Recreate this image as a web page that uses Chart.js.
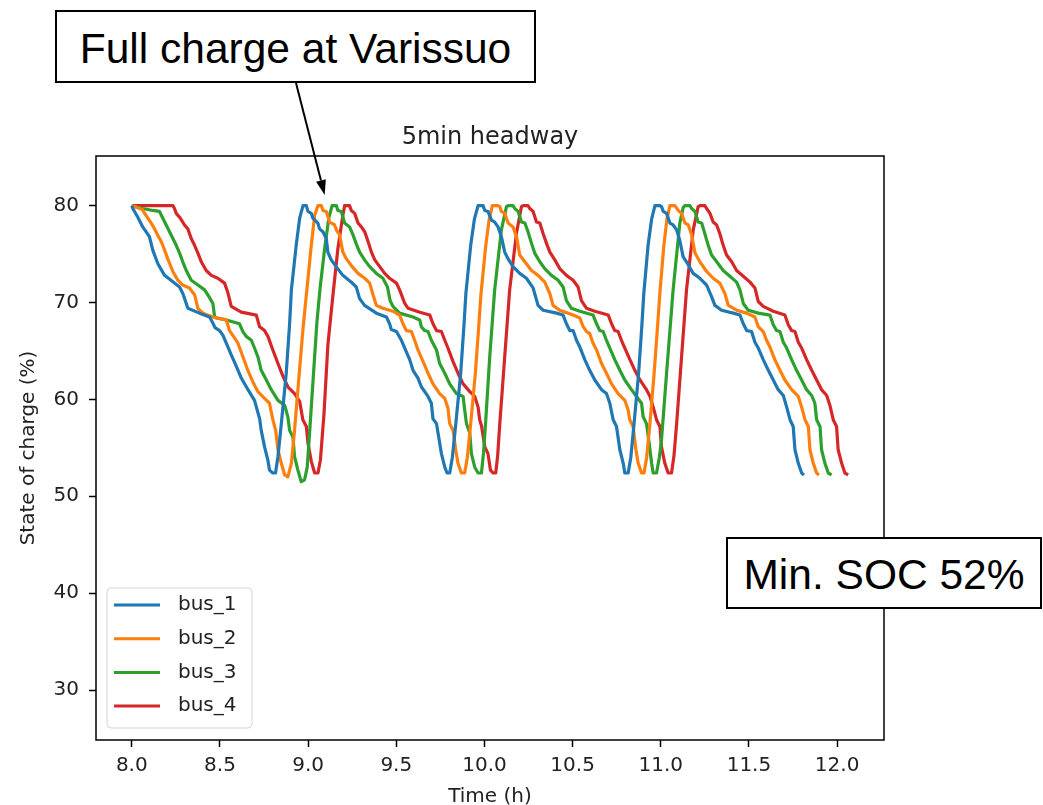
<!DOCTYPE html>
<html>
<head>
<meta charset="utf-8">
<title>5min headway</title>
<script src="https://cdn.jsdelivr.net/npm/chart.js@4.4.1/dist/chart.umd.min.js"></script>
<style>
  html, body { margin: 0; padding: 0; background: #fff; }
  #wrap { position: relative; width: 1043px; height: 805px; }
  #soc-chart { display: block; }
  .note {
    position: absolute;
    box-sizing: border-box;
    border: 2px solid #000;
    background: #fff;
    font-family: "Liberation Sans", Arial, sans-serif;
    font-size: 42.5px;
    color: #000;
    display: flex;
    align-items: center;
    justify-content: center;
    white-space: nowrap;
    padding-top: 4px;
  }
  #note-full { left: 55px; top: 10px; width: 481px; height: 73px; }
  #note-min { left: 726px; top: 537px; width: 316px; height: 72px; }
</style>
</head>
<body>
<div id="wrap">
  <canvas id="soc-chart" width="1043" height="805"></canvas>
  <div class="note" id="note-full">Full charge at Varissuo</div>
  <div class="note" id="note-min">Min. SOC 52%</div>
</div>
<script>
// [time (h), state of charge (%)] for each bus
const bus1 = [
  [8.000, 80.0], [8.006, 79.7], [8.034, 78.8], [8.062, 77.8], [8.100, 76.8], [8.119, 75.4], [8.148, 74.0],
  [8.186, 72.8], [8.242, 72.0], [8.271, 71.6], [8.290, 70.9], [8.318, 69.4], [8.384, 68.9], [8.441, 68.5],
  [8.462, 67.8], [8.472, 67.4], [8.498, 67.1], [8.517, 66.6], [8.536, 65.8], [8.564, 64.6], [8.593, 63.4],
  [8.621, 62.2], [8.659, 61.0], [8.696, 59.9], [8.725, 58.0], [8.734, 56.8], [8.753, 55.1], [8.772, 53.7],
  [8.781, 52.7], [8.800, 52.4], [8.815, 52.4],
  [8.829, 54.1], [8.848, 57.5], [8.876, 62.7], [8.895, 67.8], [8.905, 71.3], [8.933, 76.0], [8.952, 78.7],
  [8.971, 80.0], [8.990, 80.0],
  [8.999, 79.4], [9.018, 79.2], [9.027, 78.7], [9.055, 78.2], [9.065, 77.6], [9.084, 77.3], [9.103, 76.6],
  [9.112, 75.2], [9.131, 74.4], [9.159, 73.7], [9.197, 72.8], [9.245, 72.1], [9.273, 71.6], [9.292, 70.4],
  [9.320, 69.7], [9.387, 68.9], [9.444, 68.5], [9.462, 67.8], [9.472, 67.2], [9.501, 67.0], [9.529, 66.1],
  [9.548, 65.3], [9.576, 64.1], [9.595, 63.0], [9.623, 62.2], [9.642, 61.3], [9.680, 60.3], [9.699, 59.6],
  [9.708, 58.0], [9.728, 57.5], [9.737, 56.5], [9.756, 54.4], [9.775, 53.0], [9.788, 52.4], [9.803, 52.4],
  [9.818, 54.0], [9.837, 57.4], [9.865, 62.6], [9.884, 67.7], [9.895, 71.0], [9.922, 75.9], [9.943, 78.6],
  [9.964, 80.0], [9.992, 80.0],
  [10.002, 79.5], [10.020, 79.4], [10.040, 78.5], [10.058, 78.3], [10.077, 77.8], [10.096, 76.8],
  [10.115, 75.2], [10.134, 74.5], [10.162, 73.7], [10.200, 73.0], [10.238, 72.5], [10.276, 71.5],
  [10.304, 69.7], [10.333, 69.2], [10.409, 68.9], [10.446, 68.7], [10.465, 67.8], [10.484, 67.1],
  [10.503, 67.1], [10.522, 66.1], [10.541, 65.4], [10.569, 64.1], [10.597, 63.0], [10.626, 62.0],
  [10.664, 61.0], [10.692, 60.6], [10.711, 59.6], [10.730, 57.9], [10.749, 57.2], [10.768, 54.8],
  [10.787, 53.4], [10.796, 52.4], [10.815, 52.4],
  [10.830, 54.0], [10.848, 57.4], [10.874, 62.6], [10.893, 67.7], [10.904, 71.0], [10.928, 75.9],
  [10.948, 78.6], [10.967, 80.0], [10.995, 80.0],
  [11.004, 79.9], [11.014, 79.4], [11.033, 79.2], [11.052, 78.2], [11.070, 78.0], [11.090, 77.5],
  [11.108, 76.4], [11.127, 74.7], [11.156, 73.9], [11.184, 73.0], [11.222, 72.5], [11.260, 71.8],
  [11.288, 70.6], [11.307, 69.7], [11.345, 69.2], [11.411, 68.9], [11.449, 68.7], [11.468, 67.8],
  [11.487, 67.1], [11.515, 67.0], [11.534, 65.9], [11.553, 65.3], [11.581, 64.1], [11.610, 63.0],
  [11.638, 62.0], [11.666, 61.0], [11.695, 60.4], [11.714, 59.2], [11.733, 57.9], [11.751, 57.2],
  [11.761, 54.8], [11.780, 53.4], [11.799, 52.4], [11.812, 52.2],
];

const bus2 = [
  [8.000, 80.0], [8.060, 79.6], [8.073, 79.2], [8.091, 78.7], [8.110, 78.2], [8.129, 77.6], [8.148, 76.9],
  [8.167, 76.3], [8.186, 75.4], [8.204, 74.5], [8.233, 73.2], [8.261, 72.3], [8.289, 71.8], [8.327, 71.5],
  [8.356, 70.8], [8.375, 69.4], [8.403, 68.9], [8.460, 68.5], [8.536, 68.2], [8.554, 67.1], [8.573, 66.6],
  [8.602, 65.8], [8.630, 64.4], [8.658, 63.0], [8.687, 61.8], [8.715, 60.8], [8.753, 60.1], [8.781, 59.6],
  [8.800, 57.9], [8.816, 56.8], [8.829, 54.8], [8.848, 53.4], [8.867, 52.2], [8.885, 52.0],
  [8.905, 53.4], [8.923, 56.8], [8.942, 61.0], [8.970, 67.1], [8.990, 70.8], [9.018, 75.9], [9.037, 79.0],
  [9.056, 80.0], [9.075, 80.0],
  [9.084, 79.5], [9.103, 79.4], [9.122, 78.3], [9.150, 78.0], [9.160, 77.5], [9.178, 77.0], [9.197, 75.2],
  [9.217, 74.5], [9.245, 73.8], [9.283, 73.0], [9.321, 72.5], [9.349, 72.0], [9.368, 70.8], [9.387, 69.7],
  [9.424, 69.4], [9.481, 69.1], [9.519, 68.7], [9.538, 67.8], [9.557, 67.1], [9.586, 67.0], [9.604, 66.1],
  [9.623, 65.1], [9.652, 63.9], [9.680, 62.7], [9.708, 61.6], [9.746, 60.6], [9.775, 60.1], [9.793, 59.1],
  [9.803, 57.5], [9.822, 56.8], [9.837, 54.8], [9.850, 53.4], [9.869, 52.4], [9.888, 52.4],
  [9.903, 54.0], [9.922, 57.5], [9.948, 62.6], [9.968, 67.6], [9.980, 70.8], [10.007, 75.8],
  [10.027, 78.6], [10.045, 80.0], [10.072, 80.0],
  [10.087, 79.9], [10.096, 79.4], [10.115, 79.2], [10.134, 78.2], [10.162, 77.8], [10.182, 76.8],
  [10.200, 74.9], [10.229, 74.2], [10.267, 73.3], [10.304, 72.8], [10.342, 72.1], [10.371, 70.9],
  [10.389, 69.7], [10.427, 69.2], [10.503, 68.7], [10.541, 68.4], [10.560, 67.5], [10.579, 67.0],
  [10.597, 66.8], [10.616, 65.8], [10.636, 65.1], [10.664, 63.7], [10.692, 62.7], [10.721, 61.6],
  [10.758, 60.6], [10.796, 59.9], [10.815, 58.9], [10.824, 57.9], [10.843, 57.2], [10.859, 54.8],
  [10.872, 53.4], [10.891, 52.4], [10.905, 52.4],
  [10.920, 54.0], [10.938, 57.4], [10.962, 62.6], [10.982, 67.6], [10.995, 71.0], [11.017, 75.8],
  [11.035, 78.6], [11.052, 80.0], [11.080, 80.0],
  [11.099, 79.5], [11.118, 79.2], [11.137, 78.2], [11.156, 78.0], [11.175, 77.0], [11.194, 75.1],
  [11.222, 74.2], [11.260, 73.2], [11.297, 72.5], [11.335, 72.0], [11.364, 70.9], [11.383, 69.7],
  [11.430, 69.2], [11.487, 68.9], [11.534, 68.5], [11.553, 67.5], [11.581, 67.0], [11.600, 66.1],
  [11.619, 65.4], [11.647, 64.1], [11.676, 63.0], [11.704, 62.0], [11.742, 61.0], [11.780, 60.3],
  [11.799, 59.2], [11.818, 57.9], [11.837, 57.2], [11.846, 54.8], [11.865, 53.4], [11.884, 52.4],
  [11.897, 52.2],
];

const bus3 = [
  [8.000, 80.0], [8.062, 79.7], [8.119, 79.5], [8.157, 79.4], [8.176, 78.7], [8.195, 78.0], [8.214, 77.3],
  [8.233, 76.6], [8.252, 75.9], [8.271, 75.1], [8.289, 74.2], [8.309, 73.3], [8.337, 72.3], [8.375, 71.8],
  [8.413, 71.3], [8.441, 70.5], [8.460, 69.9], [8.469, 68.6], [8.479, 68.4], [8.536, 68.2], [8.611, 67.8],
  [8.630, 67.0], [8.649, 66.5], [8.678, 66.1], [8.696, 65.3], [8.715, 64.4], [8.734, 63.0], [8.763, 62.0],
  [8.791, 61.0], [8.829, 59.9], [8.867, 59.4], [8.885, 58.2], [8.895, 56.8], [8.914, 56.1], [8.923, 54.1],
  [8.942, 52.7], [8.961, 51.5], [8.980, 51.7],
  [8.995, 53.0], [9.010, 57.0], [9.030, 62.5], [9.050, 68.0], [9.068, 71.5], [9.094, 75.6], [9.118, 78.8],
  [9.136, 80.0], [9.160, 80.0],
  [9.169, 79.5], [9.188, 79.4], [9.207, 78.2], [9.235, 77.8], [9.254, 77.0], [9.274, 76.0], [9.292, 75.2],
  [9.320, 74.4], [9.349, 73.7], [9.387, 73.0], [9.424, 72.5], [9.450, 71.6], [9.465, 70.2], [9.481, 69.6],
  [9.519, 68.9], [9.595, 68.5], [9.633, 68.2], [9.642, 67.5], [9.661, 67.1], [9.680, 67.0], [9.699, 66.1],
  [9.728, 65.1], [9.746, 63.7], [9.775, 62.7], [9.803, 61.6], [9.841, 60.6], [9.879, 60.3], [9.888, 58.9],
  [9.898, 57.5], [9.917, 56.5], [9.926, 54.4], [9.945, 53.0], [9.964, 52.4], [9.983, 52.4],
  [9.995, 54.5], [10.008, 58.0], [10.030, 64.4], [10.058, 71.3], [10.096, 77.5], [10.125, 79.9],
  [10.134, 80.0], [10.162, 80.0],
  [10.172, 79.7], [10.191, 79.4], [10.210, 78.3], [10.229, 78.2], [10.247, 77.3], [10.267, 76.1],
  [10.285, 75.1], [10.314, 74.2], [10.342, 73.5], [10.380, 72.8], [10.418, 72.3], [10.446, 71.6],
  [10.465, 70.2], [10.493, 69.4], [10.541, 69.1], [10.616, 68.7], [10.636, 67.8], [10.654, 67.1],
  [10.673, 67.0], [10.692, 66.1], [10.711, 65.3], [10.739, 64.1], [10.768, 63.0], [10.796, 62.0],
  [10.834, 61.0], [10.862, 60.3], [10.891, 59.6], [10.900, 58.2], [10.919, 57.5], [10.934, 55.5],
  [10.948, 53.4], [10.957, 52.4], [10.976, 52.4],
  [10.992, 54.0], [11.004, 55.8], [11.033, 62.7], [11.070, 71.3], [11.108, 78.2], [11.127, 79.8],
  [11.137, 80.0], [11.165, 80.0],
  [11.175, 79.7], [11.194, 79.4], [11.212, 78.3], [11.232, 78.2], [11.250, 77.1], [11.269, 75.9],
  [11.288, 74.9], [11.317, 74.2], [11.354, 73.3], [11.392, 72.7], [11.430, 72.1], [11.449, 71.3],
  [11.468, 69.9], [11.496, 69.2], [11.553, 68.9], [11.619, 68.7], [11.638, 67.7], [11.657, 67.1],
  [11.676, 67.0], [11.695, 65.9], [11.714, 65.3], [11.742, 64.1], [11.770, 63.0], [11.799, 62.0],
  [11.827, 61.0], [11.856, 60.4], [11.874, 59.6], [11.884, 57.9], [11.903, 57.2], [11.912, 54.8],
  [11.931, 53.4], [11.950, 52.4], [11.969, 52.2],
];

const bus4 = [
  [8.000, 80.0], [8.233, 80.0], [8.242, 79.7], [8.252, 79.2], [8.271, 78.8], [8.289, 78.3], [8.299, 78.0],
  [8.318, 77.6], [8.337, 76.6], [8.356, 75.9], [8.375, 75.1], [8.394, 74.2], [8.422, 73.3], [8.451, 72.8],
  [8.488, 72.5], [8.526, 72.0], [8.545, 71.0], [8.564, 69.6], [8.621, 69.0], [8.706, 68.7], [8.725, 67.5],
  [8.753, 67.1], [8.772, 66.5], [8.800, 65.1], [8.829, 63.7], [8.857, 62.4], [8.885, 61.3], [8.923, 60.6],
  [8.952, 59.8], [8.970, 57.9], [8.990, 57.2], [8.999, 55.5], [9.018, 53.6], [9.037, 52.4], [9.056, 52.4],
  [9.070, 53.8], [9.090, 58.5], [9.112, 65.6], [9.141, 70.8], [9.169, 75.6], [9.197, 79.0], [9.207, 80.0],
  [9.235, 80.0],
  [9.245, 79.5], [9.264, 79.2], [9.283, 78.2], [9.302, 77.8], [9.321, 77.3], [9.340, 76.3], [9.359, 75.2],
  [9.378, 74.4], [9.406, 73.7], [9.434, 73.0], [9.462, 72.5], [9.501, 72.0], [9.519, 71.3], [9.548, 69.9],
  [9.567, 69.4], [9.633, 69.0], [9.690, 68.7], [9.708, 67.8], [9.728, 67.1], [9.756, 67.0], [9.775, 66.1],
  [9.793, 65.3], [9.822, 63.9], [9.850, 62.7], [9.879, 61.6], [9.917, 60.8], [9.945, 60.3], [9.964, 59.2],
  [9.973, 57.9], [9.983, 57.3], [10.002, 55.1], [10.020, 54.4], [10.034, 52.7], [10.049, 52.4],
  [10.064, 52.4],
  [10.075, 54.2], [10.087, 57.5], [10.115, 64.4], [10.143, 71.3], [10.182, 77.2], [10.210, 79.9],
  [10.219, 80.0], [10.247, 80.0],
  [10.257, 79.7], [10.276, 79.4], [10.295, 78.3], [10.314, 78.2], [10.333, 77.1], [10.352, 76.1],
  [10.371, 75.2], [10.399, 74.4], [10.427, 73.5], [10.465, 72.8], [10.503, 72.3], [10.531, 71.6],
  [10.550, 70.2], [10.579, 69.4], [10.626, 69.1], [10.702, 68.7], [10.721, 67.8], [10.739, 67.1],
  [10.758, 67.0], [10.777, 66.1], [10.796, 65.3], [10.825, 64.1], [10.853, 63.0], [10.882, 62.0],
  [10.919, 61.0], [10.939, 60.3], [10.957, 59.2], [10.976, 57.9], [10.995, 57.2], [11.004, 55.1],
  [11.023, 53.4], [11.042, 52.4], [11.061, 52.4],
  [11.075, 54.2], [11.090, 57.5], [11.118, 64.4], [11.146, 71.3], [11.184, 77.5], [11.212, 79.9],
  [11.222, 80.0], [11.250, 80.0],
  [11.260, 79.7], [11.279, 79.2], [11.297, 78.3], [11.317, 78.0], [11.335, 77.1], [11.354, 75.9],
  [11.373, 74.9], [11.402, 74.2], [11.430, 73.3], [11.468, 72.7], [11.506, 72.1], [11.534, 71.5],
  [11.553, 70.1], [11.581, 69.6], [11.638, 69.1], [11.704, 68.7], [11.723, 67.7], [11.742, 67.1],
  [11.761, 67.0], [11.780, 65.9], [11.799, 65.3], [11.827, 64.1], [11.856, 63.0], [11.884, 62.0],
  [11.912, 61.0], [11.941, 60.4], [11.959, 59.4], [11.978, 57.9], [11.997, 57.2], [12.006, 54.8],
  [12.026, 53.4], [12.044, 52.4], [12.063, 52.2],
];

const busNames = ['bus_1', 'bus_2', 'bus_3', 'bus_4'];
const busColors = ['#1f77b4', '#ff7f0e', '#2ca02c', '#d62728'];
const busSeries = [bus1, bus2, bus3, bus4];

const xTicks = [8.0, 8.5, 9.0, 9.5, 10.0, 10.5, 11.0, 11.5, 12.0];
const yTicks = [30, 40, 50, 60, 70, 80];
const X_MIN = 7.797;
const X_MAX = 12.266;
const Y_MIN = 24.84;
const Y_MAX = 85.12;

const plotTitle = '5min headway';

// where the "Full charge" arrow points, in data units
const arrowTip = { x: 9.094, y: 81.1 };
const arrowFrom = { x: 296, y: 83 };

Chart.defaults.font.family = '"DejaVu Sans", sans-serif';
Chart.defaults.color = '#222';

// closed box around the plot area
const axesFrame = {
  id: 'axesFrame',
  afterDatasetsDraw(chart) {
    const { ctx, chartArea: a } = chart;
    ctx.save();
    ctx.strokeStyle = '#000';
    ctx.lineWidth = 1.5;
    ctx.strokeRect(a.left, a.top, a.right - a.left, a.bottom - a.top);
    ctx.restore();
  },
};

// title centred over the plot area rather than the whole canvas
const axesTitle = {
  id: 'axesTitle',
  afterDraw(chart) {
    const { ctx, chartArea: a } = chart;
    ctx.save();
    ctx.font = '24px "DejaVu Sans"';
    ctx.fillStyle = '#222';
    ctx.textAlign = 'center';
    ctx.textBaseline = 'alphabetic';
    ctx.fillText(plotTitle, (a.left + a.right) / 2, a.top - 12);
    ctx.restore();
  },
};

// legend in the lower left corner of the plot
const insetLegend = {
  id: 'insetLegend',
  afterDraw(chart) {
    const { ctx, chartArea: a } = chart;
    const w = 145;
    const h = 140;
    const left = a.left + 11;
    const top = a.bottom - 12 - h;
    ctx.save();
    ctx.beginPath();
    ctx.roundRect(left, top, w, h, 4);
    ctx.fillStyle = 'rgba(255, 255, 255, 0.8)';
    ctx.fill();
    ctx.strokeStyle = '#d4d4d4';
    ctx.lineWidth = 1;
    ctx.stroke();
    ctx.font = '20px "DejaVu Sans"';
    ctx.textBaseline = 'middle';
    chart.data.datasets.forEach((ds, i) => {
      const y = top + 17 + i * 33.7;
      ctx.strokeStyle = ds.borderColor;
      ctx.lineWidth = 3;
      ctx.beginPath();
      ctx.moveTo(left + 7, y);
      ctx.lineTo(left + 53, y);
      ctx.stroke();
      ctx.fillStyle = '#222';
      ctx.fillText(ds.label, left + 71, y);
    });
    ctx.restore();
  },
};

const chargeArrow = {
  id: 'chargeArrow',
  afterDraw(chart) {
    const { ctx, scales } = chart;
    const tx = scales.x.getPixelForValue(arrowTip.x);
    const ty = scales.y.getPixelForValue(arrowTip.y);
    const ang = Math.atan2(ty - arrowFrom.y, tx - arrowFrom.x);
    const headLen = 15;
    const headHalf = 5;
    const bx = tx - headLen * Math.cos(ang);
    const by = ty - headLen * Math.sin(ang);
    ctx.save();
    ctx.strokeStyle = '#000';
    ctx.lineWidth = 2;
    ctx.beginPath();
    ctx.moveTo(arrowFrom.x, arrowFrom.y);
    ctx.lineTo(bx, by);
    ctx.stroke();
    ctx.beginPath();
    ctx.moveTo(tx, ty);
    ctx.lineTo(bx + headHalf * Math.sin(ang), by - headHalf * Math.cos(ang));
    ctx.lineTo(bx - headHalf * Math.sin(ang), by + headHalf * Math.cos(ang));
    ctx.closePath();
    ctx.fillStyle = '#000';
    ctx.fill();
    ctx.restore();
  },
};

const datasets = busSeries.map((points, i) => ({
  label: busNames[i],
  data: points.map(([t, soc]) => ({ x: t, y: soc })),
  borderColor: busColors[i],
  backgroundColor: busColors[i],
  borderWidth: 3.2,
  borderJoinStyle: 'round',
  pointRadius: 0,
  tension: 0,
  fill: false,
}));

new Chart(document.getElementById('soc-chart'), {
  type: 'line',
  data: { datasets },
  options: {
    responsive: false,
    animation: false,
    events: [],
    layout: { padding: { top: 156, right: 159, bottom: 0, left: 0 } },
    plugins: {
      legend: { display: false },
      tooltip: { enabled: false },
      title: { display: false },
    },
    scales: {
      x: {
        type: 'linear',
        min: X_MIN,
        max: X_MAX,
        afterBuildTicks: (scale) => {
          scale.ticks = xTicks.map((v) => ({ value: v }));
        },
        afterFit: (scale) => {
          scale.height = 65;
        },
        ticks: {
          font: { size: 20 },
          padding: 7,
          maxRotation: 0,
          autoSkip: false,
          callback: (v) => Number(v).toFixed(1),
        },
        grid: { drawOnChartArea: false, tickLength: 7, tickColor: '#000', tickWidth: 1.5 },
        border: { display: false },
        title: { display: true, text: 'Time (h)', font: { size: 20 }, padding: { top: 0, bottom: -4 } },
      },
      y: {
        type: 'linear',
        min: Y_MIN,
        max: Y_MAX,
        afterBuildTicks: (scale) => {
          scale.ticks = yTicks.map((v) => ({ value: v }));
        },
        afterFit: (scale) => {
          scale.width = 96;
        },
        ticks: {
          font: { size: 20 },
          padding: 10,
          autoSkip: false,
          callback: (v) => String(v),
        },
        grid: { drawOnChartArea: false, tickLength: 7, tickColor: '#000', tickWidth: 1.5 },
        border: { display: false },
        title: { display: true, text: 'State of charge (%)', font: { size: 20 }, padding: { top: 17, bottom: 0 } },
      },
    },
  },
  plugins: [axesFrame, axesTitle, insetLegend, chargeArrow],
});
</script>
</body>
</html>
